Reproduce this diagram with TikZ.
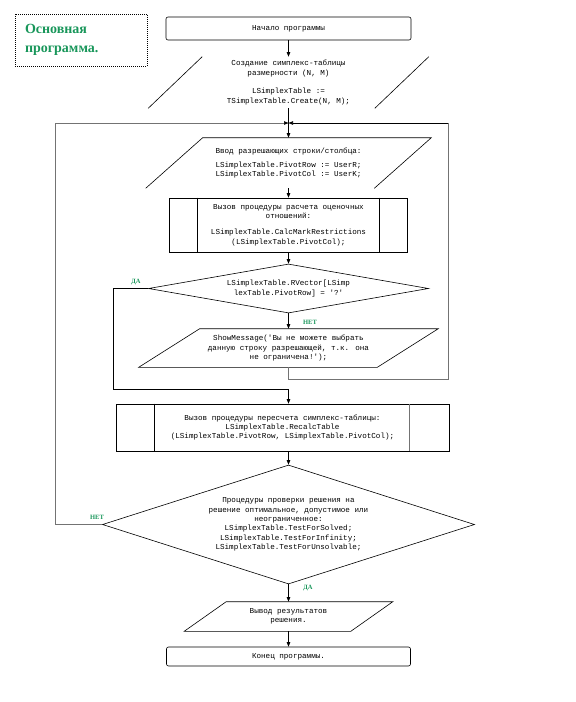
\documentclass[tikz,border=0pt]{standalone}
\usepackage{fontspec}
\setmainfont{Liberation Serif}
\newfontfamily\codefont{Liberation Mono}
\usepackage{xcolor}
\usetikzlibrary{calc, arrows.meta, shapes.geometric}

\definecolor{labelgreen}{RGB}{24,150,90}

\tikzset{
	codetext/.style={font=\codefont\fontsize{7.6}{9.3}\selectfont, align=center, inner sep=0pt},
	termbox/.style={codetext, draw, rounded corners=2pt},
	procbox/.style={codetext, draw},
	decision/.style={codetext, draw, diamond},
	titlebox/.style={draw, dash pattern=on 1pt off 1pt, minimum width=132pt, minimum height=52pt,
		text width=112pt, inner xsep=10pt, align=left, font=\bfseries\fontsize{14}{19}\selectfont, text=labelgreen},
	answer/.style={font=\bfseries\fontsize{6.5}{7}\selectfont, text=labelgreen, inner sep=0pt},
	flow/.style={-{Triangle[length=4.5pt, width=3.5pt, color=black]}},
	loopline/.style={draw=black!55}
}

\begin{document}
\begin{tikzpicture}[x=1pt, y=-1pt, line width=0.6pt]
		\useasboundingbox (0,0) rectangle (576,702);

		\node [titlebox] (title) at (81,40) {Основная\\программа.};

		\node [termbox, minimum width=245pt, minimum height=23pt] (start) at (288.5,28.5) {Начало программы};

		\node [codetext, minimum width=226pt, minimum height=51pt] (create) at (288.5,82.5)
			{Создание симплекс-таблицы\\размерности (N, M)\\[9.3pt]LSimplexTable :=\\TSimplexTable.Create(N, M);};
		\draw ($(create.north west)+(27,0)$) -- ($(create.south west)+(-27,0)$);
		\draw ($(create.north east)+(27,0)$) -- ($(create.south east)+(-27,0)$);

		\node [codetext, minimum width=228pt, minimum height=50pt] (pivotin) at (288.5,163)
			{Ввод разрешающих строки/столбца:\\[5pt]LSimplexTable.PivotRow := UserR;\\LSimplexTable.PivotCol := UserK;};
		\draw ($(pivotin.south west)+(-28.5,0)$) -- ($(pivotin.north west)+(28.5,0)$)
			-- ($(pivotin.north east)+(28.5,0)$) -- ($(pivotin.south east)+(-28.5,0)$);

		\node [procbox, minimum width=238pt, minimum height=54pt] (ratios) at (288.5,225)
			{Вызов процедуры расчета оценочных\\отношений:\\[7pt]LSimplexTable.CalcMarkRestrictions\\(LSimplexTable.PivotCol);};
		\draw ($(ratios.north west)+(28,0)$) -- ($(ratios.south west)+(28,0)$);
		\draw ($(ratios.north east)+(-29,0)$) -- ($(ratios.south east)+(-29,0)$);

		\node [decision, aspect=5.7, minimum width=280pt, minimum height=49pt] (pivotcheck) at (288.5,288.5)
			{LSimplexTable.RVector[LSimp\\lexTable.PivotRow] = '?'};

		\node [codetext, minimum width=238pt, minimum height=38pt] (msg) at (288.5,348)
			{ShowMessage('Вы не можете выбрать\\данную строку разрешающей, т.к. она\\не ограничена!');};
		\draw ($(msg.north west)+(30.5,0)$) -- ($(msg.north east)+(30.5,0)$)
			-- ($(msg.south east)+(-30.5,0)$) -- ($(msg.south west)+(-30.5,0)$) -- cycle;

		\node [procbox, minimum width=333pt, minimum height=47pt] (recalc) at (282.5,427.5)
			{Вызов процедуры пересчета симплекс-таблицы:\\LSimplexTable.RecalcTable\\(LSimplexTable.PivotRow, LSimplexTable.PivotCol);};
		\draw ($(recalc.north west)+(39,0)$) -- ($(recalc.south west)+(39,0)$);
		\draw [black!55] ($(recalc.north east)+(-40,0)$) -- ($(recalc.south east)+(-40,0)$);

		\node [decision, aspect=3.1, minimum width=372pt, minimum height=119pt] (optcheck) at (288.5,524.5)
			{Процедуры проверки решения на\\решение оптимальное, допустимое или\\неограниченное:\\LSimplexTable.TestForSolved;\\LSimplexTable.TestForInfinity;\\LSimplexTable.TestForUnsolvable;};

		\node [codetext, minimum width=166pt, minimum height=29pt] (result) at (288.5,616.5)
			{Вывод результатов\\решения.};
		\draw ($(result.north west)+(21,0)$) -- ($(result.north east)+(21,0)$)
			-- ($(result.south east)+(-21,0)$) -- ($(result.south west)+(-21,0)$) -- cycle;

		\node [termbox, minimum width=244pt, minimum height=19pt] (finish) at (288.5,656.5) {Конец программы.};

		% connectors
		\coordinate (merge) at ($(create.south)!0.5!(pivotin.north)$);
		\coordinate (rightturn) at ($(merge)+(159.5,0)$);
		\coordinate (leftturn) at ($(merge)+(-233.5,0)$);
		\coordinate (yesturn) at ($(pivotcheck.west)+(-35,0)$);
		\coordinate (rejoin) at ($(msg.south)+(0,22)$);

		\draw [flow] (start) -- (create.north);
		\draw [flow] (create.south) -- (pivotin.north);
		\draw [flow] (pivotin.south) -- (ratios.north);
		\draw [flow] (ratios.south) -- (pivotcheck.north);
		\draw [flow] (pivotcheck.south) -- (msg.north);
		\node [answer] (no1) at (310,322) {НЕТ};

		\draw [loopline] (msg.south) -- ++(0,12) -| (rightturn);
		\draw [flow] (rightturn) -- (merge);

		\draw [flow] (pivotcheck.west) -- (yesturn) |- (rejoin) -- (rejoin |- recalc.north);
		\node [answer] (yes1) at (136,282) {ДА};

		\draw [flow] (recalc.south -| optcheck.north) -- (optcheck.north);
		\draw [loopline, flow] (optcheck.west) -| (leftturn) -- (merge);
		\node [answer] (no2) at (97,517) {НЕТ};

		\draw [flow] (optcheck.south) -- (result.north);
		\node [answer] (yes2) at (308,588) {ДА};
		\draw [flow] (result.south) -- (finish.north);
	\end{tikzpicture}
\end{document}
